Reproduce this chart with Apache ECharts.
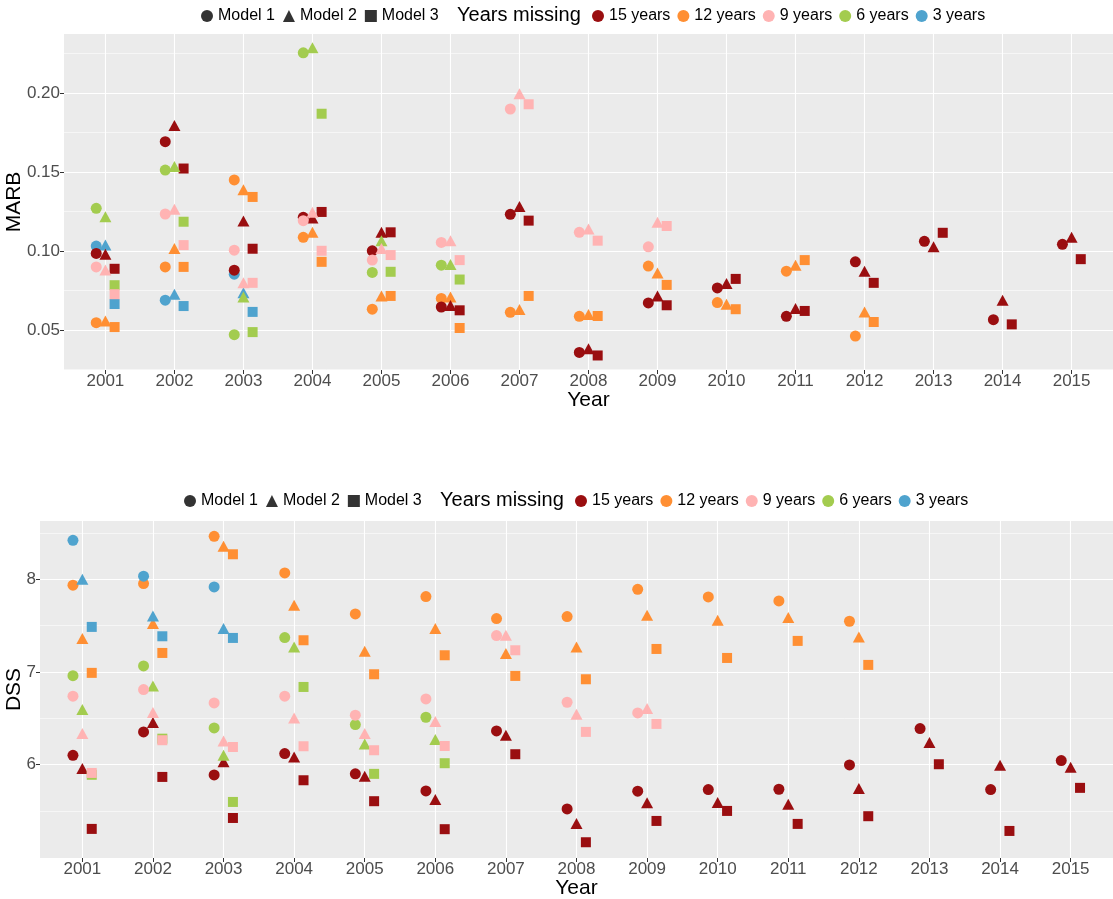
<!DOCTYPE html>
<html>
<head>
<meta charset="utf-8">
<script src="https://cdn.jsdelivr.net/npm/echarts@6.0.0/dist/echarts.min.js"></script>
<style>
html, body { margin: 0; padding: 0; background: #fff; }
#main { width: 1113px; height: 899px; }
</style>
</head>
<body>
<div id="main"></div>
<script>
// x categories
var years = [2001, 2002, 2003, 2004, 2005, 2006, 2007, 2008, 2009, 2010, 2011, 2012, 2013, 2014, 2015];
var groupNames = ['15 years', '12 years', '9 years', '6 years', '3 years'];
var modelNames = ['Model 1', 'Model 2', 'Model 3'];

// tick labels
var marbTicks = [0.05, 0.10, 0.15, 0.20];
var marbMinor = [0.025, 0.075, 0.125, 0.175, 0.225];
var dssTicks = [6, 7, 8];
var dssMinor = [5.5, 6.5, 7.5, 8.5];

// MARB, top panel (one array per group and model, starting at 2001)
var marb15_m1 = [0.0985, 0.1693, 0.0879, 0.1214, 0.1002, 0.0646, 0.1233, 0.0358, 0.0672, 0.0767, 0.0587, 0.0932, 0.1062, 0.0566, 0.1043];
var marb15_m2 = [0.0980, 0.1796, 0.1190, 0.1210, 0.1119, 0.0655, 0.1282, 0.0382, 0.0716, 0.0795, 0.0636, 0.0873, 0.1027, 0.0689, 0.1087];
var marb15_m3 = [0.0888, 0.1523, 0.1015, 0.1248, 0.1119, 0.0625, 0.1193, 0.0339, 0.0657, 0.0824, 0.0621, 0.0799, 0.1116, 0.0536, 0.0949];
var marb12_m1 = [0.0547, 0.0900, 0.1451, 0.1087, 0.0632, 0.0700, 0.0612, 0.0587, 0.0905, 0.0674, 0.0873, 0.0462];
var marb12_m2 = [0.0557, 0.1017, 0.1388, 0.1119, 0.0716, 0.0710, 0.0630, 0.0598, 0.0862, 0.0663, 0.0911, 0.0615];
var marb12_m3 = [0.0519, 0.0900, 0.1343, 0.0932, 0.0716, 0.0513, 0.0716, 0.0589, 0.0786, 0.0632, 0.0943, 0.0551];
var marb9_m1 = [0.0900, 0.1235, 0.1006, 0.1193, 0.0943, 0.1055, 0.1900, 0.1119, 0.1027];
var marb9_m2 = [0.0880, 0.1265, 0.0799, 0.1246, 0.1017, 0.1066, 0.1997, 0.1140, 0.1182];
var marb9_m3 = [0.0727, 0.1038, 0.0799, 0.1002, 0.0975, 0.0943, 0.1930, 0.1066, 0.1159];
var marb6_m1 = [0.1271, 0.1513, 0.0471, 0.2256, 0.0865, 0.0911];
var marb6_m2 = [0.1218, 0.1536, 0.0710, 0.2288, 0.1066, 0.0915];
var marb6_m3 = [0.0784, 0.1186, 0.0487, 0.1870, 0.0869, 0.0820];
var marb3_m1 = [0.1032, 0.0689, 0.0854];
var marb3_m2 = [0.1038, 0.0727, 0.0737];
var marb3_m3 = [0.0665, 0.0652, 0.0615];

// DSS, bottom panel
var dss15_m1 = [6.100, 6.353, 5.889, 6.119, 5.900, 5.716, 6.363, 5.522, 5.713, 5.731, 5.734, 5.996, 6.389, 5.731, 6.044];
var dss15_m2 = [5.957, 6.454, 6.030, 6.083, 5.874, 5.623, 6.317, 5.364, 5.587, 5.591, 5.572, 5.742, 6.238, 5.993, 5.972];
var dss15_m3 = [5.306, 5.867, 5.424, 5.831, 5.605, 5.303, 6.112, 5.162, 5.392, 5.500, 5.360, 5.443, 6.004, 5.284, 5.749];
var dss12_m1 = [7.936, 7.954, 8.464, 8.068, 7.626, 7.814, 7.576, 7.598, 7.892, 7.810, 7.766, 7.547];
var dss12_m2 = [7.360, 7.522, 8.356, 7.720, 7.223, 7.468, 7.198, 7.270, 7.612, 7.558, 7.587, 7.378];
var dss12_m3 = [6.990, 7.205, 8.270, 7.342, 6.975, 7.180, 6.957, 6.921, 7.248, 7.151, 7.335, 7.076];
var dss9_m1 = [6.738, 6.810, 6.665, 6.738, 6.533, 6.709, 7.393, 6.673, 6.558];
var dss9_m2 = [6.335, 6.562, 6.255, 6.504, 6.335, 6.465, 7.396, 6.544, 6.605];
var dss9_m3 = [5.910, 6.263, 6.190, 6.198, 6.155, 6.201, 7.234, 6.353, 6.439];
var dss6_m1 = [6.960, 7.065, 6.396, 7.371, 6.432, 6.511];
var dss6_m2 = [6.594, 6.849, 6.101, 7.270, 6.223, 6.270];
var dss6_m3 = [5.890, 6.280, 5.597, 6.838, 5.900, 6.015];
var dss3_m1 = [8.421, 8.033, 7.917];
var dss3_m2 = [8.000, 7.604, 7.468];
var dss3_m3 = [7.486, 7.385, 7.367];

var marbData = {
    '15 years': [marb15_m1, marb15_m2, marb15_m3],
    '12 years': [marb12_m1, marb12_m2, marb12_m3],
    '9 years': [marb9_m1, marb9_m2, marb9_m3],
    '6 years': [marb6_m1, marb6_m2, marb6_m3],
    '3 years': [marb3_m1, marb3_m2, marb3_m3]
};
var dssData = {
    '15 years': [dss15_m1, dss15_m2, dss15_m3],
    '12 years': [dss12_m1, dss12_m2, dss12_m3],
    '9 years': [dss9_m1, dss9_m2, dss9_m3],
    '6 years': [dss6_m1, dss6_m2, dss6_m3],
    '3 years': [dss3_m1, dss3_m2, dss3_m3]
};

var colors = {
    '15 years': '#9A0E10',
    '12 years': '#FF8F33',
    '9 years': '#FFB3B3',
    '6 years': '#A3CC4F',
    '3 years': '#4FA3CE'
};
var drawOrder = ['12 years', '3 years', '15 years', '6 years', '9 years'];
var shapes = ['circle', 'triangle', 'rect'];
var shapeSizes = [11, [12, 11], 10];
var dodge = [-0.133, 0, 0.133];
var font = 'Liberation Sans, Arial, sans-serif';

var myChart = echarts.init(document.getElementById('main'));

function buildSeries(panelData, p) {
    var out = [];
    drawOrder.forEach(function (g) {
        panelData[g].forEach(function (vals, m) {
            out.push({
                name: g,
                type: 'scatter',
                xAxisIndex: p,
                yAxisIndex: p * 2,
                symbol: shapes[m],
                symbolSize: shapeSizes[m],
                itemStyle: { color: colors[g], opacity: 1 },
                emphasis: { disabled: true },
                data: vals.map(function (v, i) { return [years[i] + dodge[m], v]; })
            });
        });
    });
    return out;
}

function xAxisFor(p) {
    return {
        type: 'value', gridIndex: p, min: 2000.4, max: 2015.6,
        name: 'Year', nameLocation: 'middle', nameGap: 20, nameMoveOverlap: false,
        nameTextStyle: { fontSize: 21, color: '#000', fontFamily: font },
        axisLine: { show: false },
        axisTick: { show: true, length: 4, customValues: years, lineStyle: { color: '#333' } },
        axisLabel: { customValues: years, margin: 3, fontSize: 17, color: '#4D4D4D', fontFamily: font,
            formatter: function (v) { return String(Math.round(v)); } },
        splitLine: { show: true, lineStyle: { color: '#fff', width: 1.1 } }
    };
}

function yAxesFor(p, name, min, max, ticks, minor, digits, gap) {
    return [{
        type: 'value', gridIndex: p, min: min, max: max,
        name: name, nameLocation: 'middle', nameGap: gap, nameRotate: 90, nameMoveOverlap: false,
        nameTextStyle: { fontSize: 21, color: '#000', fontFamily: font },
        axisLine: { show: false },
        axisTick: { show: true, length: 4, customValues: ticks, lineStyle: { color: '#333' } },
        axisLabel: { customValues: ticks, margin: 4, fontSize: 17, color: '#4D4D4D', fontFamily: font,
            formatter: function (v) { return v.toFixed(digits); } },
        splitLine: { show: true, lineStyle: { color: '#fff', width: 1.1 } },
        z: 1
    }, {
        type: 'value', gridIndex: p, min: min, max: max,
        axisLine: { show: false },
        axisTick: { show: false, customValues: minor },
        axisLabel: { show: false },
        splitLine: { show: true, lineStyle: { color: '#fff', width: 0.55 } },
        z: 0
    }];
}

function legendsFor(top, leftModels, leftYears) {
    return [{
        left: leftModels, top: top, padding: 0, itemWidth: 12, itemHeight: 12, itemGap: 8,
        selectedMode: false,
        textStyle: { fontSize: 16, color: '#000', fontFamily: font },
        data: [
            { name: 'Model 1', icon: 'circle' },
            { name: 'Model 2', icon: 'triangle' },
            { name: 'Model 3', icon: 'rect' }
        ]
    }, {
        left: leftYears, top: top, padding: 0, itemWidth: 12, itemHeight: 12, itemGap: 7,
        selectedMode: false,
        textStyle: { fontSize: 16, color: '#000', fontFamily: font },
        data: groupNames.map(function (g) { return { name: g, icon: 'circle' }; })
    }];
}

var series = [];
modelNames.forEach(function (m, i) {
    series.push({ name: m, type: 'scatter', xAxisIndex: 0, yAxisIndex: 0, symbol: shapes[i],
        itemStyle: { color: '#000' }, data: [] });
});
series = series.concat(buildSeries(marbData, 0), buildSeries(dssData, 1));

var option = {
    backgroundColor: '#fff',
    animation: false,
    title: [
        { text: 'Years missing', left: 457, top: 5, padding: 0,
          textStyle: { fontSize: 20, fontWeight: 'normal', color: '#000', fontFamily: font } },
        { text: 'Years missing', left: 440, top: 490, padding: 0,
          textStyle: { fontSize: 20, fontWeight: 'normal', color: '#000', fontFamily: font } }
    ],
    legend: legendsFor(8, 201, 592).concat(legendsFor(493, 184, 575)),
    grid: [
        { left: 64, right: 0, top: 34, bottom: 529, show: true, backgroundColor: '#EBEBEB', borderWidth: 0,
          outerBoundsMode: 'none', containLabel: false },
        { left: 40, right: 0, top: 521, bottom: 41, show: true, backgroundColor: '#EBEBEB', borderWidth: 0,
          outerBoundsMode: 'none', containLabel: false }
    ],
    xAxis: [xAxisFor(0), xAxisFor(1)],
    yAxis: yAxesFor(0, 'MARB', 0.0247, 0.2375, marbTicks, marbMinor, 2, 39)
        .concat(yAxesFor(1, 'DSS', 4.992, 8.629, dssTicks, dssMinor, 0, 15)),
    series: series
};
myChart.setOption(option);
</script>
</body>
</html>
